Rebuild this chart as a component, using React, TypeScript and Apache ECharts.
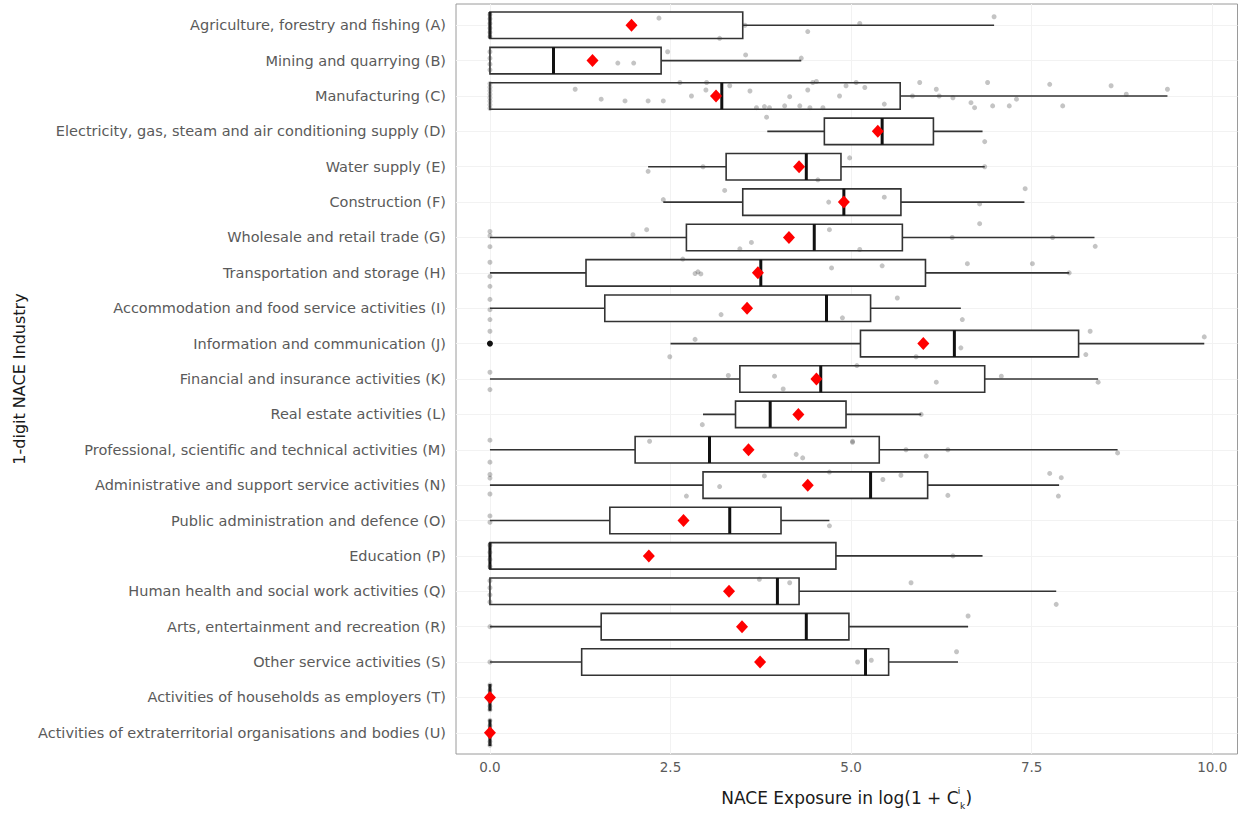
import React, { useEffect, useRef } from "react";
import * as echarts from "echarts";

const industries: string[] = [
  "Agriculture, forestry and fishing (A)",
  "Mining and quarrying (B)",
  "Manufacturing (C)",
  "Electricity, gas, steam and air conditioning supply (D)",
  "Water supply (E)",
  "Construction (F)",
  "Wholesale and retail trade (G)",
  "Transportation and storage (H)",
  "Accommodation and food service activities (I)",
  "Information and communication (J)",
  "Financial and insurance activities (K)",
  "Real estate activities (L)",
  "Professional, scientific and technical activities (M)",
  "Administrative and support service activities (N)",
  "Public administration and defence (O)",
  "Education (P)",
  "Human health and social work activities (Q)",
  "Arts, entertainment and recreation (R)",
  "Other service activities (S)",
  "Activities of households as employers (T)",
  "Activities of extraterritorial organisations and bodies (U)",
];

// [lower whisker, Q1, median, Q3, upper whisker] per industry
const boxStats: number[][] = [
  [0, 0, 0, 3.5, 6.98],
  [0, 0, 0.88, 2.37, 4.31],
  [0, 0, 3.21, 5.68, 9.38],
  [3.84, 4.63, 5.43, 6.14, 6.82],
  [2.19, 3.27, 4.38, 4.86, 6.85],
  [2.4, 3.5, 4.9, 5.69, 7.4],
  [0, 2.72, 4.49, 5.71, 8.37],
  [0, 1.33, 3.75, 6.03, 8.02],
  [0, 1.59, 4.66, 5.27, 6.52],
  [2.5, 5.13, 6.43, 8.15, 9.89],
  [0, 3.46, 4.58, 6.85, 8.42],
  [2.95, 3.4, 3.88, 4.93, 5.97],
  [0, 2.01, 3.04, 5.39, 8.69],
  [0, 2.95, 5.27, 6.06, 7.88],
  [0, 1.66, 3.32, 4.03, 4.7],
  [0, 0, 0, 4.79, 6.82],
  [0, 0, 3.98, 4.28, 7.84],
  [0, 1.54, 4.38, 4.97, 6.62],
  [0, 1.27, 5.2, 5.52, 6.48],
  [0, 0, 0, 0, 0],
  [0, 0, 0, 0, 0],
];

// mean exposure per industry
const means: number[] = [
  1.96, 1.42, 3.13, 5.37, 4.28, 4.9, 4.14, 3.71, 3.56, 6.0, 4.52, 4.27, 3.58,
  4.4, 2.68, 2.2, 3.31, 3.49, 3.74, 0, 0,
];

// boxplot outliers: [value, industry index]
const outliers: number[][] = [[0, 9]];

// observed exposures: [value, vertical jitter within the row]
const pointsA = [[0, -0.3], [0, -0.18], [0, -0.05], [0, 0.08], [0, 0.2], [0, 0.32], [2.34, -0.2], [3.18, 0.37], [3.53, 0], [4.4, 0.18], [5.12, -0.05], [6.98, -0.24]];
const pointsB = [[0, -0.25], [0, -0.07], [0, 0.1], [0, 0.26], [1.77, 0.07], [1.99, 0.07], [2.46, -0.25], [3.54, -0.16], [4.31, -0.07]];
const pointsC = [
  [0, -0.35], [0, -0.25], [0, -0.15], [0, -0.05], [0, 0.05], [0, 0.15], [0, 0.25], [0, 0.35],
  [1.18, -0.19], [1.54, 0.09], [1.87, 0.14], [2.19, 0.14], [2.4, 0.14], [2.63, -0.38], [2.79, 0],
  [3.0, -0.38], [2.99, -0.17], [3.32, -0.29], [3.6, -0.14], [3.69, 0.33], [3.8, 0.3], [3.87, 0.33],
  [4.08, 0.28], [4.15, 0.02], [4.29, 0.28], [4.4, -0.17], [4.43, 0.33], [4.47, -0.38], [4.52, -0.41],
  [4.61, 0.33], [4.84, 0], [4.93, -0.29], [5.07, -0.38], [5.19, -0.24], [5.46, 0.23], [5.85, 0],
  [5.95, -0.38], [6.18, -0.19], [6.22, 0], [6.41, 0.05], [6.66, 0.19], [6.71, 0.33], [6.89, -0.38],
  [6.96, 0.28], [7.19, 0.28], [7.29, 0.09], [7.75, -0.33], [7.93, 0.28], [8.6, -0.29], [8.81, -0.05],
  [9.38, -0.19],
];
const pointsD = [[3.83, -0.4], [6.85, 0.29]];
const pointsE = [[2.19, 0.13], [2.95, 0], [4.54, 0.37], [4.98, -0.25], [6.85, 0]];
const pointsF = [[2.4, -0.07], [3.25, -0.33], [4.69, 0], [5.46, -0.14], [6.78, 0.05], [7.41, -0.38]];
const pointsG = [[0, -0.17], [0, 0.26], [0, -0.05], [1.98, -0.08], [2.17, -0.22], [3.46, 0.32], [3.62, 0.14], [4.7, -0.22], [5.12, 0.34], [6.4, 0], [6.78, -0.39], [7.79, 0], [8.38, 0.25]];
const pointsH = [[0, -0.3], [0, 0.1], [0, 0.38], [2.67, -0.39], [2.84, 0.02], [2.88, -0.03], [2.92, 0.03], [4.73, -0.14], [5.43, -0.2], [6.61, -0.26], [7.51, -0.26], [8.02, 0]];
const pointsI = [[0, -0.25], [0, 0.04], [0, 0.32], [3.2, 0.18], [4.88, 0.27], [5.64, -0.29], [6.54, 0.32]];
const pointsJ = [[0, -0.35], [2.49, 0.37], [2.84, -0.12], [5.9, 0.37], [6.52, 0.12], [8.25, 0.31], [8.31, -0.35], [9.89, -0.19]];
const pointsK = [[0, -0.19], [0, 0.3], [3.3, -0.1], [3.94, -0.08], [4.06, 0.28], [5.08, -0.38], [6.18, 0.09], [7.08, -0.08], [8.42, 0.09]];
const pointsL = [[2.94, 0.29], [5.97, 0]];
const pointsM = [[0, -0.27], [0, 0.35], [2.21, -0.24], [4.24, 0.13], [4.33, 0.23], [5.02, -0.21], [5.02, -0.24], [5.76, 0], [6.04, 0.18], [6.34, 0], [8.69, 0.09]];
const pointsN = [[0, -0.3], [0, -0.2], [0, 0.25], [2.72, 0.31], [3.18, 0.04], [3.8, -0.26], [4.7, -0.37], [5.44, -0.16], [5.69, -0.28], [6.34, 0.29], [7.75, -0.33], [7.87, 0.31], [7.91, -0.21]];
const pointsO = [[0, -0.13], [0, 0.05], [4.7, 0.15]];
const pointsP = [[0, -0.3], [0, -0.1], [0, 0.1], [0, 0.3], [6.41, 0]];
const pointsQ = [[0, -0.3], [0, -0.1], [0, 0.1], [0, 0.3], [3.73, -0.34], [4.15, -0.24], [5.83, -0.24], [7.84, 0.37]];
const pointsR = [[0, 0], [6.62, -0.3]];
const pointsS = [[0, 0], [5.09, 0], [5.28, -0.05], [6.46, -0.29]];
const pointsT = [[0, -0.35], [0, -0.2], [0, -0.05], [0, 0.1], [0, 0.25], [0, 0.35]];
const pointsU = [[0, -0.35], [0, -0.2], [0, -0.05], [0, 0.1], [0, 0.25], [0, 0.35]];

const observations: number[][][] = [
  pointsA, pointsB, pointsC, pointsD, pointsE, pointsF, pointsG, pointsH, pointsI, pointsJ, pointsK,
  pointsL, pointsM, pointsN, pointsO, pointsP, pointsQ, pointsR, pointsS, pointsT, pointsU,
];

const xTicks: number[] = [0, 2.5, 5, 7.5, 10];
const xRange: number[] = [-0.47, 10.35];
const yRange: number[] = [-0.6, 20.6];

const FONT = "DejaVu Sans";
const DIAMOND = "path://M0,-1 L0.9,0 L0,1 L-0.9,0 Z";

export default function App() {
  const ref = useRef<HTMLDivElement>(null);

  useEffect(() => {
    if (!ref.current) return;
    const chart = echarts.init(ref.current, undefined, { renderer: "svg" });
    const rowIdx = industries.map((_, i) => i);

    const boxData = boxStats.map((s, i) => [i, ...s]);
    const jitterData: number[][] = [];
    observations.forEach((pts, i) => pts.forEach(([v, dy]) => jitterData.push([v, i + dy])));
    const meanData = means.map((m, i) => [m, i]);

    const option: any = {
      animation: false,
      backgroundColor: "#ffffff",
      textStyle: { fontFamily: FONT },
      grid: {
        left: 456,
        top: 4,
        right: 1.5,
        bottom: 60,
        show: true,
        backgroundColor: "#ffffff",
        borderColor: "#9a9a9a",
        borderWidth: 1,
      },
      xAxis: {
        type: "value",
        min: xRange[0],
        max: xRange[1],
        name: "{a|NACE Exposure in log(1 + C}{sup|i}{sub|k}{a|)}",
        nameLocation: "middle",
        nameGap: 32,
        nameTextStyle: {
          rich: {
            a: { fontFamily: FONT, fontSize: 17, color: "#1a1a1a", lineHeight: 24 },
            sup: { fontFamily: FONT, fontSize: 9, color: "#1a1a1a", lineHeight: 11, verticalAlign: "top", width: 1 },
            sub: { fontFamily: FONT, fontSize: 9, color: "#1a1a1a", lineHeight: 11, verticalAlign: "bottom", width: 6 },
          },
        },
        axisLine: { show: false },
        splitLine: { show: false },
        axisTick: {
          show: true,
          length: 4,
          customValues: xTicks,
          lineStyle: { color: "#555", width: 1 },
        },
        axisLabel: {
          customValues: xTicks,
          margin: 6,
          fontFamily: FONT,
          fontSize: 13.5,
          color: "#5a5a5a",
          formatter: (v: number) => v.toFixed(1),
        },
      },
      yAxis: {
        type: "value",
        inverse: true,
        min: yRange[0],
        max: yRange[1],
        name: "1-digit NACE Industry",
        nameLocation: "middle",
        nameRotate: 90,
        nameGap: 428,
        nameTextStyle: { fontFamily: FONT, fontSize: 16, color: "#1a1a1a" },
        axisLine: { show: false },
        splitLine: { show: false },
        axisTick: {
          show: true,
          length: 4,
          customValues: rowIdx,
          lineStyle: { color: "#555", width: 1 },
        },
        axisLabel: {
          customValues: rowIdx,
          margin: 10,
          fontFamily: FONT,
          fontSize: 14.5,
          color: "#5a5a5a",
          formatter: (v: number) => industries[Math.round(v)] ?? "",
        },
      },
      series: [
        {
          // faint panel grid, kept beneath the boxes
          type: "scatter",
          data: [],
          z: 1,
          silent: true,
          markLine: {
            z: 1,
            zlevel: 0,
            silent: true,
            symbol: "none",
            label: { show: false },
            lineStyle: { color: "#f2f2f2", width: 1, type: "solid" },
            data: [
              ...xTicks.map((v) => ({ xAxis: v })),
              ...rowIdx.map((i) => ({ yAxis: i })),
            ],
          },
        },
        {
          type: "custom",
          z: 2,
          silent: true,
          data: boxData,
          encode: { x: [1, 2, 3, 4, 5], y: 0 },
          renderItem: (_params: any, api: any) => {
            const idx = api.value(0);
            const lo = api.coord([api.value(1), idx]);
            const q1 = api.coord([api.value(2), idx]);
            const med = api.coord([api.value(3), idx]);
            const q3 = api.coord([api.value(4), idx]);
            const hi = api.coord([api.value(5), idx]);
            const half = Math.abs(api.size([0, 1])[1]) * 0.375;
            const y = lo[1];
            const stroke = "#333333";
            return {
              type: "group",
              children: [
                { type: "line", shape: { x1: lo[0], y1: y, x2: q1[0], y2: y }, style: { stroke, lineWidth: 1.7 } },
                { type: "line", shape: { x1: q3[0], y1: y, x2: hi[0], y2: y }, style: { stroke, lineWidth: 1.7 } },
                {
                  type: "rect",
                  shape: { x: q1[0], y: y - half, width: q3[0] - q1[0], height: half * 2 },
                  style: { fill: "#ffffff", stroke, lineWidth: 1.6 },
                },
                {
                  type: "line",
                  shape: { x1: med[0], y1: y - half, x2: med[0], y2: y + half },
                  style: { stroke: "#111111", lineWidth: 3 },
                },
              ],
            };
          },
        },
        {
          type: "scatter",
          z: 3,
          silent: true,
          symbol: "circle",
          symbolSize: 5,
          itemStyle: { color: "rgba(60,60,60,0.3)", opacity: 1 },
          data: jitterData,
        },
        {
          type: "scatter",
          z: 3,
          silent: true,
          symbol: "circle",
          symbolSize: 6,
          itemStyle: { color: "#111111", opacity: 1 },
          data: outliers,
        },
        {
          type: "scatter",
          z: 4,
          silent: true,
          symbol: DIAMOND,
          symbolSize: [12, 13],
          itemStyle: { color: "#ff0000", opacity: 1 },
          data: meanData,
        },
      ],
    };

    chart.setOption(option);
    return () => chart.dispose();
  }, []);

  return (
    <div
      ref={ref}
      style={{ position: "fixed", left: 0, top: 0, width: 1239, height: 815, background: "#fff" }}
    />
  );
}
